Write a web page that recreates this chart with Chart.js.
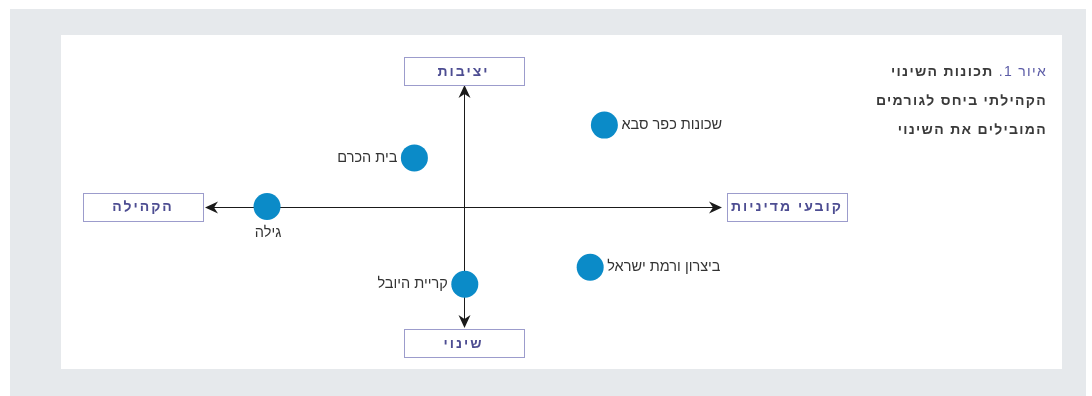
<!DOCTYPE html>
<html lang="he">
<head>
<meta charset="utf-8">
<script src="https://cdn.jsdelivr.net/npm/chart.js@4/dist/chart.umd.min.js"></script>
<style>
  html, body { margin: 0; padding: 0; background: #fff; }
  #frame { position: absolute; left: 10px; top: 9px; width: 1076px; height: 387px; background: #e6e9ec; }
  #panel { position: absolute; left: 61px; top: 35px; width: 1001px; height: 334px; background: #fff; }
  #chart { position: absolute; left: 0; top: 0; }
  #caption {
    position: absolute; right: 15px; top: 22px; direction: rtl; text-align: right;
    font-family: "Liberation Sans", "DejaVu Sans", sans-serif; font-size: 14px; font-weight: bold;
    color: #3a3a3a; line-height: 29px; letter-spacing: 1.3px;
  }
  #caption .fig { color: #5b5ba6; font-weight: normal; }
</style>
</head>
<body>
<div id="frame"></div>
<div id="panel">
  <canvas id="chart" width="1001" height="334"></canvas>
  <div id="caption"><span class="fig">איור 1.</span> תכונות השינוי<br>הקהילתי ביחס לגורמים<br>המובילים את השינוי</div>
</div>
<script>
// neighbourhoods placed on the two axes (community <-> policy makers, stability <-> change)
const places = ["גילה", "בית הכרם", "שכונות כפר סבא", "ביצרון ורמת ישראל", "קריית היובל"];
const xValues = [-7.6, -1.9, 5.45, 4.9, 0.05];
const yValues = [0, 4, 6.7, -5, -6.4];
const labelSide = ["below", "left", "right", "right", "left"];

// axis end labels
const axisTop = "יציבות";
const axisBottom = "שינוי";
const axisLeft = "הקהילה";
const axisRight = "קובעי מדיניות";

const points = places.map((p, i) => ({ x: xValues[i], y: yValues[i] }));

function arrow(ctx, x, y, dir) {
  // dir: angle the arrow points toward
  ctx.save();
  ctx.translate(x, y);
  ctx.rotate(dir);
  ctx.beginPath();
  ctx.moveTo(0, 0);
  ctx.lineTo(-13, -6);
  ctx.lineTo(-9, 0);
  ctx.lineTo(-13, 6);
  ctx.closePath();
  ctx.fillStyle = "#1a1a1a";
  ctx.fill();
  ctx.restore();
}

function box(ctx, cx, cy, text) {
  const w = 120, h = 28;
  ctx.save();
  ctx.fillStyle = "#fff";
  ctx.fillRect(cx - w / 2, cy - h / 2, w, h);
  ctx.strokeStyle = "#9c9ccc";
  ctx.lineWidth = 1;
  ctx.strokeRect(Math.round(cx - w / 2) + 0.5, Math.round(cy - h / 2) + 0.5, w, h);
  ctx.fillStyle = "#4d4d92";
  ctx.font = "bold 14px 'Liberation Sans', 'DejaVu Sans', sans-serif";
  ctx.letterSpacing = "2px";
  ctx.direction = "rtl";
  ctx.textAlign = "center";
  ctx.textBaseline = "middle";
  ctx.fillText(text, cx, cy + 1);
  ctx.restore();
}

const axesPlugin = {
  id: "crossAxes",
  beforeDatasetsDraw(chart) {
    const { ctx, scales } = chart;
    const x0 = scales.x.getPixelForValue(0);
    const y0 = scales.y.getPixelForValue(0);
    const left = scales.x.getPixelForValue(scales.x.min);
    const right = scales.x.getPixelForValue(scales.x.max);
    const top = scales.y.getPixelForValue(scales.y.max);
    const bottom = scales.y.getPixelForValue(scales.y.min);
    ctx.save();
    ctx.strokeStyle = "#1a1a1a";
    ctx.lineWidth = 1;
    ctx.beginPath();
    ctx.moveTo(left + 4, Math.round(y0) + 0.5);
    ctx.lineTo(right - 4, Math.round(y0) + 0.5);
    ctx.moveTo(Math.round(x0) + 0.5, top + 4);
    ctx.lineTo(Math.round(x0) + 0.5, bottom - 4);
    ctx.stroke();
    arrow(ctx, left, Math.round(y0) + 0.5, Math.PI);
    arrow(ctx, right, Math.round(y0) + 0.5, 0);
    arrow(ctx, Math.round(x0) + 0.5, top, -Math.PI / 2);
    arrow(ctx, Math.round(x0) + 0.5, bottom, Math.PI / 2);
    ctx.restore();

    box(ctx, x0, top - 14, axisTop);
    box(ctx, x0, bottom + 15, axisBottom);
    box(ctx, left - 62, y0, axisLeft);
    box(ctx, right + 65, y0, axisRight);
  },
  afterDatasetsDraw(chart) {
    const { ctx } = chart;
    const meta = chart.getDatasetMeta(0);
    ctx.save();
    ctx.fillStyle = "#333";
    ctx.font = "14.5px 'Liberation Sans', 'DejaVu Sans', sans-serif";
    ctx.direction = "rtl";
    ctx.textBaseline = "middle";
    meta.data.forEach((el, i) => {
      const side = labelSide[i];
      if (side === "below") {
        ctx.textAlign = "center";
        ctx.fillText(places[i], el.x + 1, el.y + 26);
      } else if (side === "left") {
        ctx.textAlign = "right";
        ctx.fillText(places[i], el.x - 17, el.y);
      } else {
        ctx.textAlign = "left";
        ctx.fillText(places[i], el.x + 17, el.y);
      }
    });
    ctx.restore();
  }
};

new Chart(document.getElementById("chart"), {
  type: "scatter",
  data: {
    datasets: [
      {
        data: points,
        backgroundColor: "#0b8bc8",
        borderWidth: 0,
        pointRadius: 13.5,
        pointHoverRadius: 13.5,
      },
    ],
  },
  options: {
    responsive: false,
    animation: false,
    layout: { padding: { left: 144, right: 340, top: 50, bottom: 41 } },
    plugins: { legend: { display: false }, tooltip: { enabled: false } },
    scales: {
      x: { type: "linear", min: -10, max: 10, display: false },
      y: { type: "linear", min: -10, max: 10, display: false },
    },
  },
  plugins: [axesPlugin],
});
</script>
</body>
</html>
